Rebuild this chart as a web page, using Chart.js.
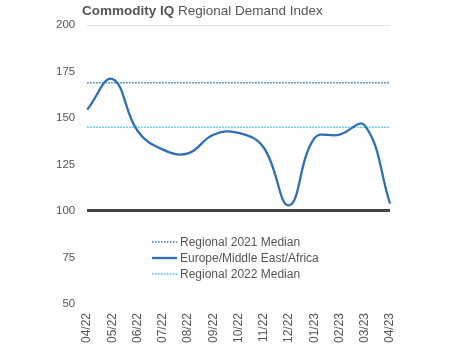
<!DOCTYPE html>
<html>
<head>
<meta charset="utf-8">
<script src="https://cdn.jsdelivr.net/npm/chart.js@4/dist/chart.umd.min.js"></script>
<style>
  html, body { margin: 0; padding: 0; background: #fff; }
  #wrap { width: 450px; height: 344px; }
</style>
</head>
<body>
<div id="wrap"><canvas id="myChart" width="450" height="344"></canvas></div>
<script>
const months = ["04/22", "05/22", "06/22", "07/22", "08/22", "09/22", "10/22",
  "11/22", "12/22", "01/23", "02/23", "03/23", "04/23"];
const emeaIndex = [154.5, 171, 143, 133, 131, 141, 142, 134, 103, 139, 141, 146, 104];
const median2021 = [169, 169, 169, 169, 169, 169, 169, 169, 169, 169, 169, 169, 169];
const median2022 = [145, 145, 145, 145, 145, 145, 145, 145, 145, 145, 145, 145, 145];
const yTicks = [50, 75, 100, 125, 150, 175, 200];

const FONT = "'Liberation Sans', Arial, Helvetica, sans-serif";
const TEXT = "#555";

// title drawn on top of the canvas (bold + regular in one line)
const titlePlugin = {
  id: "titleText",
  afterDraw(chart) {
    const c = chart.ctx;
    c.save();
    c.textBaseline = "middle";
    c.fillStyle = TEXT;
    c.font = "bold 13.5px " + FONT;
    const a = "Commodity IQ";
    c.fillText(a, 82, 11);
    const w = c.measureText(a).width;
    c.font = "13.5px " + FONT;
    c.fillText(" Regional Demand Index", 82 + w, 11);
    c.restore();
  },
};

// stacked legend inside the plot
const legendPlugin = {
  id: "boxLegend",
  afterDraw(chart) {
    const c = chart.ctx;
    c.save();
    c.font = "12px " + FONT;
    c.textBaseline = "middle";
    chart.data.datasets.forEach((ds, i) => {
      const y = 242 + i * 16;
      c.beginPath();
      c.strokeStyle = ds.borderColor;
      c.lineWidth = ds.borderWidth;
      c.setLineDash(ds.borderDash || []);
      c.moveTo(152, y);
      c.lineTo(177, y);
      c.stroke();
      c.setLineDash([]);
      c.fillStyle = TEXT;
      c.fillText(ds.label, 180, y + 0.5);
    });
    c.restore();
  },
};

const data = {
  labels: months,
  datasets: [
    {
      label: "Regional 2021 Median",
      data: median2021,
      borderColor: "#3a75ad",
      borderWidth: 1.5,
      borderDash: [1.5, 1.5],
      pointRadius: 0,
      tension: 0,
    },
    {
      label: "Europe/Middle East/Africa",
      data: emeaIndex,
      borderColor: "#2e6fb5",
      borderWidth: 2.3,
      pointRadius: 0,
      tension: 0.42,
    },
    {
      label: "Regional 2022 Median",
      data: median2022,
      borderColor: "#45c0f2",
      borderWidth: 1.5,
      borderDash: [1.5, 1.5],
      pointRadius: 0,
      tension: 0,
    },
  ],
};

const config = {
  type: "line",
  data: data,
  options: {
    responsive: false,
    animation: false,
    layout: { padding: { top: 25, right: 60, left: 44, bottom: 0 } },
    plugins: {
      legend: { display: false },
      title: { display: false },
      tooltip: { enabled: false },
    },
    scales: {
      x: {
        offset: false,
        border: { display: false },
        grid: { display: false },
        ticks: {
          color: TEXT,
          font: { family: FONT, size: 12 },
          maxRotation: 90,
          minRotation: 90,
          autoSkip: false,
          padding: 1,
        },
      },
      y: {
        min: 50,
        max: 200,
        afterBuildTicks: (axis) => {
          axis.ticks = yTicks.map((v) => ({ value: v }));
        },
        border: { display: false },
        grid: {
          drawTicks: false,
          color: (ctx) => {
            if (ctx.tick.value === 100) return "#444";
            if (ctx.tick.value === 200) return "#e2e2e2";
            return "rgba(0,0,0,0)";
          },
          lineWidth: (ctx) => (ctx.tick.value === 100 ? 3 : 1),
        },
        ticks: {
          color: TEXT,
          font: { family: FONT, size: 11.5 },
          padding: 12,
        },
      },
    },
  },
  plugins: [titlePlugin, legendPlugin],
};

const ctx = document.getElementById("myChart").getContext("2d");
new Chart(ctx, config);
</script>
</body>
</html>
